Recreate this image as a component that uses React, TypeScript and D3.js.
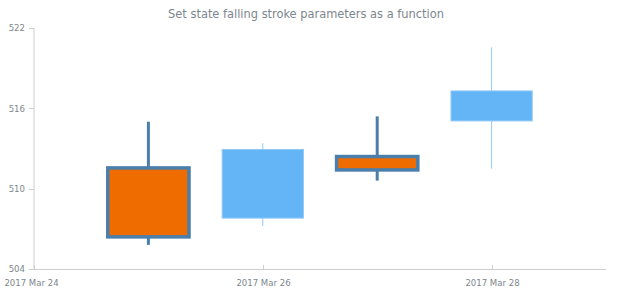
import React from "react";
import * as d3 from "d3";

const dates = ["2017-03-25", "2017-03-26", "2017-03-27", "2017-03-28"];
const opens = [511.55, 507.8, 512.4, 515.06];
const highs = [515.0, 513.4, 515.4, 520.55];
const lows = [505.8, 507.2, 510.6, 511.5];
const closes = [506.4, 512.93, 511.4, 517.3];
const yTicks = [504, 510, 516, 522];
const xTickDates = ["2017-03-24", "2017-03-26", "2017-03-28"];
const title = "Set state falling stroke parameters as a function";

const W = 620, H = 300;
const left = 34, right = 606, top = 28, bottom = 269;
const FONT = "'DejaVu Sans Condensed', 'DejaVu Sans', sans-serif";
const TXT = "#7c868e";
const AX = "#cecece";

export default function App() {
  const parse = d3.utcParse("%Y-%m-%d");
  const fmt = d3.utcFormat("%Y %b %d");
  const x = d3.scaleUtc().domain([parse("2017-03-24")!, parse("2017-03-29")!]).range([left, right]);
  const y = d3.scaleLinear().domain([504, 522]).range([bottom, top]);
  const day = x(parse("2017-03-25")!) - x(parse("2017-03-24")!);
  const bw = day * 0.71;
  const data = dates.map((d, i) => ({ date: parse(d)!, open: opens[i], high: highs[i], low: lows[i], close: closes[i] }));
  return (
    <svg width={W} height={H} style={{ position: "absolute", left: 0, top: 0 }} fontFamily={FONT}>
      <rect width={W} height={H} fill="#fff" />
      <text x={306} y={18} textAnchor="middle" fontSize={12.7} fill={TXT}>{title}</text>
      <line x1={left} x2={left} y1={top} y2={bottom} stroke={AX} />
      <line x1={left} x2={right} y1={bottom + 0.5} y2={bottom + 0.5} stroke={AX} />
      {yTicks.map((t) => (
        <g key={t}>
          <line x1={left - 5} x2={left} y1={Math.round(y(t)) + 0.5} y2={Math.round(y(t)) + 0.5} stroke={AX} />
          <text x={left - 9} y={y(t)} dy="0.35em" textAnchor="end" fontSize={9.5} fill={TXT}>{t}</text>
        </g>
      ))}
      {xTickDates.map((d, i) => {
        const xx = Math.round(x(parse(d)!)) + 0.5;
        return (
          <g key={d}>
            <line x1={xx} x2={xx} y1={bottom} y2={bottom - 4} stroke={AX} />
            <text x={i === 0 ? xx - 3 : xx} y={bottom + 17} textAnchor="middle" fontSize={9.5} fill={TXT}>{fmt(parse(d)!)}</text>
          </g>
        );
      })}
      {data.map((d, i) => {
        const cx = x(d.date);
        const falling = d.close < d.open;
        const yt = y(Math.max(d.open, d.close));
        const yb = y(Math.min(d.open, d.close));
        if (falling) {
          return (
            <g key={i}>
              <line x1={cx} x2={cx} y1={y(d.high)} y2={y(d.low)} stroke="#4a7fac" strokeWidth={3} />
              <rect x={cx - bw / 2} y={yt} width={bw} height={yb - yt} fill="#EF6C00" stroke="#4a7fac" strokeWidth={3.5} />
            </g>
          );
        }
        return (
          <g key={i}>
            <line x1={cx} x2={cx} y1={y(d.high)} y2={y(d.low)} stroke="#90c8f8" strokeWidth={1} />
            <rect x={cx - bw / 2} y={yt} width={bw} height={yb - yt} fill="#64B5F6" stroke="#90c8f8" strokeWidth={1} />
          </g>
        );
      })}
    </svg>
  );
}
